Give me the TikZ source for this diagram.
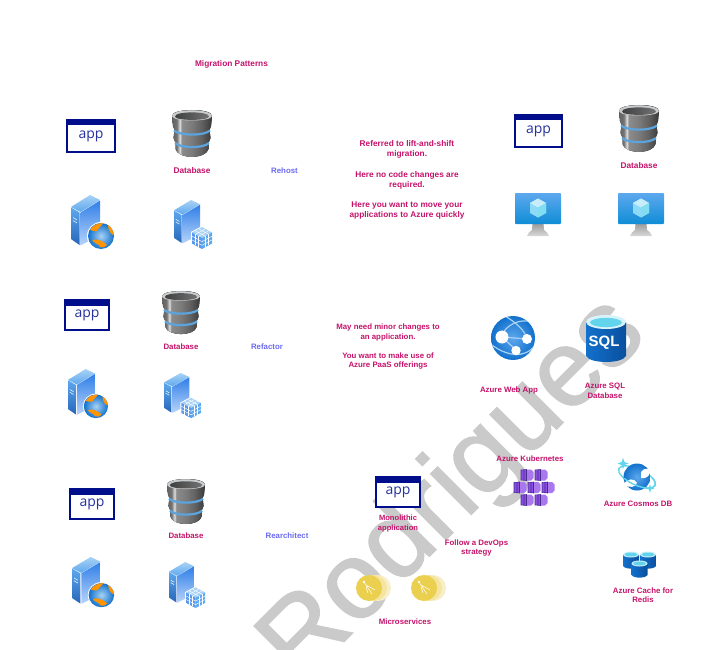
\documentclass[tikz,border=0pt]{standalone}
\usepackage{fontspec}
\setmainfont{Liberation Sans}
\newfontfamily\appfont{Open Sans}
\newfontfamily\wmfont[FakeBold=1.6]{Liberation Sans}
\definecolor{lab}{HTML}{C4126A}
\definecolor{pat}{HTML}{6A6AF0}
\definecolor{navy}{HTML}{000E8C}
\definecolor{wm}{HTML}{CACACA}
\definecolor{azdark}{HTML}{0A4F9E}
\definecolor{azmid}{HTML}{1271CC}
\definecolor{azlight}{HTML}{5EA8EE}
\definecolor{azpale}{HTML}{A8D2F5}
\definecolor{cyanlite}{HTML}{62D4EC}
\definecolor{sv1}{HTML}{2F7FE8}
\definecolor{sv2}{HTML}{B9D4FA}
\definecolor{dbtop}{HTML}{C9CCCE}
\definecolor{dbband}{HTML}{5CA4DE}
\definecolor{pur}{HTML}{8A4FE0}
\definecolor{purl}{HTML}{A878EC}
\definecolor{purd}{HTML}{4A2A90}
\definecolor{gold}{HTML}{EBCF4E}
\definecolor{gold2}{HTML}{F3E18F}
\definecolor{gold3}{HTML}{F8EFC8}
\pgfdeclarehorizontalshading{dbbody}{100bp}{color(0bp)=(black!62);color(25bp)=(black!62);color(31bp)=(black!55);color(35bp)=(black!12);color(37bp)=(black!45);color(50bp)=(black!52);color(62bp)=(black!62);color(75bp)=(black!78);color(100bp)=(black!78)}
\tikzset{
  txt/.style={text=lab,font=\bfseries\fontsize{8.3}{10.2}\selectfont,align=center,inner sep=0pt,yshift=-.6pt},
  txtb/.style={txt,font=\bfseries\fontsize{7.85}{9.4}\selectfont},
  pattern label/.style={txtb,text=pat},
}
\newcommand\iconapp[5]{\begin{scope}[shift={(#1,#2)}]
  \fill[white] (0,0) rectangle (#3,#4);
  \draw[navy,line width=2pt] (1,1) rectangle (#3-1,#4-1);
  \fill[navy] (0,0) rectangle (#3,6.5);
  \node[text=navy!85!white,font=\appfont\fontsize{14}{14}\selectfont,inner sep=0pt] (#5) at (#3/2,#4/2+.5) {app};
\end{scope}}
\newcommand\icondb[4]{\begin{scope}[shift={(#1,#2)},xscale=#3,yscale=#4]
  \fill[shading=dbbody] (0,6) .. controls (0,-2) and (40,-2) .. (40,6) -- (39,16) -- (37.5,20) -- (38.5,28) -- (36.5,33) -- (36.5,39) .. controls (34,49.5) and (6,49.5) .. (3.5,39) -- (3.5,33) -- (1.5,28) -- (2.5,20) -- (1,16) -- cycle;
  \fill[dbtop] (0,6) .. controls (0,-1.5) and (40,-1.5) .. (40,6) .. controls (40,12) and (0,12) .. (0,6) -- cycle;
  \shade[left color=black!75,right color=black!55] (3,6.5) .. controls (3,1) and (37,1) .. (37,6.5) .. controls (37,11) and (3,11) .. (3,6.5) -- cycle;
  \draw[dbband,line width=2.2pt] (2,20.5) .. controls (8,26) and (32,26) .. (38,20.5);
  \draw[dbband,line width=2.2pt] (3,33) .. controls (9,38.5) and (31,38.5) .. (37,33);
\end{scope}}
\newcommand\tower{%
  \fill[white] (0,12) -- (19,0) -- (29,5) -- (29,40) -- (9,52) -- (0,44) -- cycle;
  \shade[top color=azpale,bottom color=azlight] (0,12) -- (19,0) -- (29,5) -- (9.5,17) -- cycle;
  \shade[top color=azlight,bottom color=sv1!80!black] (0,12.5) -- (8.5,17.5) -- (8.5,50) -- (0,44) -- cycle;
  \shade[top color=sv1,bottom color=sv2] (9.5,17.5) -- (29,5.5) -- (29,40) -- (9.5,50.5) -- cycle;
  \draw[white,line width=.5pt] (2,22.5) -- (6,25) (2,25.5) -- (6,28);
}
\newcommand\iconglobe[4]{\begin{scope}[shift={(#1,#2)},xscale=#3,yscale=#4]
  \tower
  \fill[white] (30,41) circle (14);
  \shade[inner color=azpale,outer color=azmid] (30,41) circle (13);
  \fill[orange!85!yellow] (19,35) .. controls (22,30) and (27,28) .. (32,28) .. controls (31,31) and (27,33) .. (26,36) .. controls (24,35) and (21,37) .. (19,35) -- cycle;
  \fill[orange!85!yellow] (37,30) .. controls (40,32) and (42.5,36) .. (43,40) .. controls (40,40) and (37,35) .. (37,30) -- cycle;
  \fill[orange!85!yellow] (21,45) .. controls (27,43) and (33,47) .. (36,50) .. controls (33,52.5) and (31,53) .. (29,52) .. controls (29,49) and (24,49) .. (21,45) -- cycle;
\end{scope}}
\newcommand\iconcube[4]{\begin{scope}[shift={(#1,#2)},xscale=#3,yscale=#4]
  \begin{scope}[xscale=.9,yscale=.86]\tower\end{scope}
  \fill[white] (17,32) -- (28,26) -- (39,32) -- (39,44) -- (28,50) -- (17,44) -- cycle;
  \fill[azpale] (18,32.5) -- (28,27) -- (38,32.5) -- (28,38) -- cycle;
  \fill[sv1!80!white] (18,32.5) -- (28,38) -- (28,49) -- (18,43.5) -- cycle;
  \fill[azlight] (38,32.5) -- (28,38) -- (28,49) -- (38,43.5) -- cycle;
  \foreach \t in {.33,.67}{
    \draw[white,line width=.45pt] (18+10*\t,32.5+5.5*\t) -- (18+10*\t,43.5+5.5*\t);
    \draw[white,line width=.45pt] (38-10*\t,32.5+5.5*\t) -- (38-10*\t,43.5+5.5*\t);
    \draw[white,line width=.45pt] (18,32.5+11*\t) -- (28,38+11*\t) -- (38,32.5+11*\t);
    \draw[white,line width=.45pt] (18+10*\t,32.5-5.5*\t) -- (28+10*\t,38-5.5*\t);
    \draw[white,line width=.45pt] (18+10*\t,32.5+5.5*\t) -- (28+10*\t,27+5.5*\t);
  }
\end{scope}}
\newcommand\iconvm[2]{\begin{scope}[shift={(#1,#2)}]
  \shade[top color=black!40,bottom color=black!15] (17.5,30) -- (28.5,30) -- (29,37) -- (32,39.5) -- (34,43) -- (12,43) -- (14,39.5) -- (17,37) -- cycle;
  \shade[top color=azlight,bottom color=azmid!80!cyan,rounded corners=.8pt] (0,0) rectangle (46,31);
  \fill[cyan!45!white] (23,5.5) -- (31,10) -- (31,20) -- (23,24.5) -- (15,20) -- (15,10) -- cycle;
  \fill[cyan!22!white] (23,5.5) -- (31,10) -- (23,14.5) -- (15,10) -- cycle;
  \fill[cyanlite!80!white] (31,10) -- (31,20) -- (23,24.5) -- (23,14.5) -- cycle;
\end{scope}}
\newcommand\cyl[2]{\begin{scope}[shift={(#1,#2)}]
  \shade[left color=azmid,right color=azdark] (-8,-5.5) -- (8,-5.5) -- (8,6) .. controls (6,9.5) and (-6,9.5) .. (-8,6) -- cycle;
  \fill[white!80!cyan] (0,-5.5) ellipse (8 and 3);
  \fill[cyanlite] (0,-5.5) ellipse (6.5 and 2);
\end{scope}}
\newcommand\kube[2]{\begin{scope}[shift={(#1,#2)}]
  \fill[purl] (-1,-5.5) -- (4,-5.5) -- (6.5,-3) -- (6.5,3) -- (4,5.5) -- (-1,5.5) -- cycle;
  \fill[pur] (-6,-5) -- (-1,-5.5) -- (-1,5.5) -- (-6,5) -- cycle;
  \draw[purd,line width=.55pt] (-6,-5) -- (-.5,-5.5) -- (-.5,5.5) -- (-6,5) -- cycle (-3,-5.2) -- (-3,5.2);
\end{scope}}
\newcommand\micro[2]{\begin{scope}[shift={(#1,#2)},blend group=multiply]
  \begin{scope}[blend mode=normal]
  \fill[gold3] (9,0) circle (13);
  \fill[gold2!70!gold3] (5,0) circle (13);
  \fill[gold] (0,0) circle (13);
  \end{scope}
\end{scope}
\begin{scope}[shift={(#1,#2)}]
  \draw[white,line width=.5pt] (-5,-6) -- (3,6) (-3,-1) -- (-1,5) (-3,-3) -- (6,2);
  \fill[white] (-5,-6) circle (1.3);
\end{scope}}
\begin{document}
\begin{tikzpicture}[x=1pt,y=-1pt]
\useasboundingbox (0,0) rectangle (715,650);
\begin{scope}
\clip (0,0) rectangle (715,650);
\node[text=wm,font=\wmfont\fontsize{108}{108}\selectfont,rotate=45,anchor=center,inner sep=0pt] (watermark) at (455,491) {Rodrigues};
\end{scope}
\node[txt] (title) at (231.5,64) {Migration Patterns};
% Rehost
\iconapp{66}{119}{50}{34}{appA}
\icondb{172}{110}{1}{1}
\node[txt] (dbA) at (192,170) {Database};
\iconglobe{71}{195}{1}{1}
\iconcube{174}{200}{1}{1}
\node[pattern label] (rehost) at (284.5,170) {Rehost};
\node[txt] (rehostText) at (407,179.5) {Referred to lift-and-shift\\migration.\\[10.2pt]Here no code changes are\\required.\\[10.2pt]Here you want to move your\\applications to Azure quickly};
\iconapp{514}{114}{49}{34}{appB}
\icondb{619}{105}{1}{1}
\node[txt] (dbB) at (639,165) {Database};
\iconvm{515}{193}
\iconvm{618}{193}
% Refactor
\iconapp{64}{299}{46}{32}{appC}
\icondb{162}{291}{.95}{.92}
\node[txtb] (dbC) at (181,346) {Database};
\iconglobe{68}{369}{.93}{.91}
\iconcube{164}{373}{.97}{.92}
\node[pattern label] (refactor) at (267,346) {Refactor};
\node[txtb] (refactorText) at (388,346) {May need minor changes to\\an application.\\[9.4pt]You want to make use of\\Azure PaaS offerings};
\shade[inner color=azlight,outer color=azmid] (513,338) circle (22);
\begin{scope}
\clip (513,338) circle (22);
\draw[azpale,line width=1.2pt] (505,316) .. controls (515,322) and (525,330) .. (527,339);
\draw[azpale,line width=1.2pt] (492,345) .. controls (505,355) and (525,360) .. (535,345);
\draw[azpale,line width=1.2pt] (501,337) .. controls (505,325) and (520,318) .. (532,322);
\draw[azpale,line width=1.2pt] (502,337) -- (516,350) (502,337) -- (527,339);
\end{scope}
\fill[white] (502,337) circle (6.5);
\fill[white] (527,339) circle (5);
\fill[white] (516,350.5) circle (4.7);
% SQL
\shade[left color=azmid,right color=azdark] (586,322) -- (626,322) -- (626,356) .. controls (622,364) and (590,364) .. (586,356) -- cycle;
\fill[white!85!cyan] (606,322) ellipse (20 and 7);
\fill[cyanlite] (606,322.5) ellipse (16 and 4.6);
\node[text=white,font=\bfseries\fontsize{15}{15}\selectfont,inner sep=0pt] (sqlMark) at (604,343) {SQL};
\node[txtb] (webapp) at (509,390) {Azure Web App};
\node[txtb] (sqlDb) at (605,390) {Azure SQL\\Database};
% Rearchitect
\iconapp{69}{488}{46}{32}{appD}
\icondb{167}{479}{.95}{.96}
\node[txtb] (dbD) at (186,535) {Database};
\iconglobe{72}{557}{.98}{.93}
\iconcube{169}{562}{.95}{.94}
\node[pattern label] (rearch) at (287,535) {Rearchitect};
\iconapp{375}{476}{46}{32}{appE}
\node[txtb,font=\bfseries\fontsize{7.6}{9.6}\selectfont] (mono) at (398,523) {Monolithic\\application};
\node[txtb] (devops) at (476.5,547.5) {Follow a DevOps\\strategy};
\micro{369}{588}
\micro{424}{588}
\node[txtb] (micros) at (405,621) {Microservices};
\node[txtb] (aks) at (530,458) {Azure Kubernetes};
\kube{527}{475}\kube{541}{475}
\kube{520}{487.5}\kube{534}{487.5}\kube{548}{487.5}
\kube{527}{500}\kube{541}{500}
% Cosmos
\draw[cyanlite,line width=1.4pt,rotate around={-25:(637,477)}] (637,477) ellipse (20 and 8);
\shade[inner color=azlight,outer color=azmid] (637,477) circle (13.5);
\fill[white] (641,472) .. controls (644,467) and (650,468) .. (650,473) .. controls (649,477) and (644,479) .. (641,478) -- cycle;
\fill[white] (624,484) .. controls (628,478) and (634,478) .. (637,483) .. controls (636,487) and (629,489) .. (624,484) -- cycle;
\begin{scope}
\clip (600,478) rectangle (680,500);
\draw[cyanlite,line width=1.4pt,rotate around={-25:(637,477)}] (637,477) ellipse (20 and 8);
\end{scope}
\fill[cyanlite] (623,458) -- (624.5,462) -- (628.5,463.5) -- (624.5,465) -- (623,469) -- (621.5,465) -- (617.5,463.5) -- (621.5,462) -- cycle;
\fill[cyanlite] (650,484) -- (651,487.5) -- (654.5,488.5) -- (651,489.5) -- (650,493) -- (649,489.5) -- (645.5,488.5) -- (649,487.5) -- cycle;
\node[txtb] (cosmos) at (638,503) {Azure Cosmos DB};
% Redis
\cyl{631}{560}\cyl{648}{560}\cyl{639.5}{569}
\node[txtb] (redis) at (643,594.5) {Azure Cache for\\Redis};
\end{tikzpicture}
\end{document}
